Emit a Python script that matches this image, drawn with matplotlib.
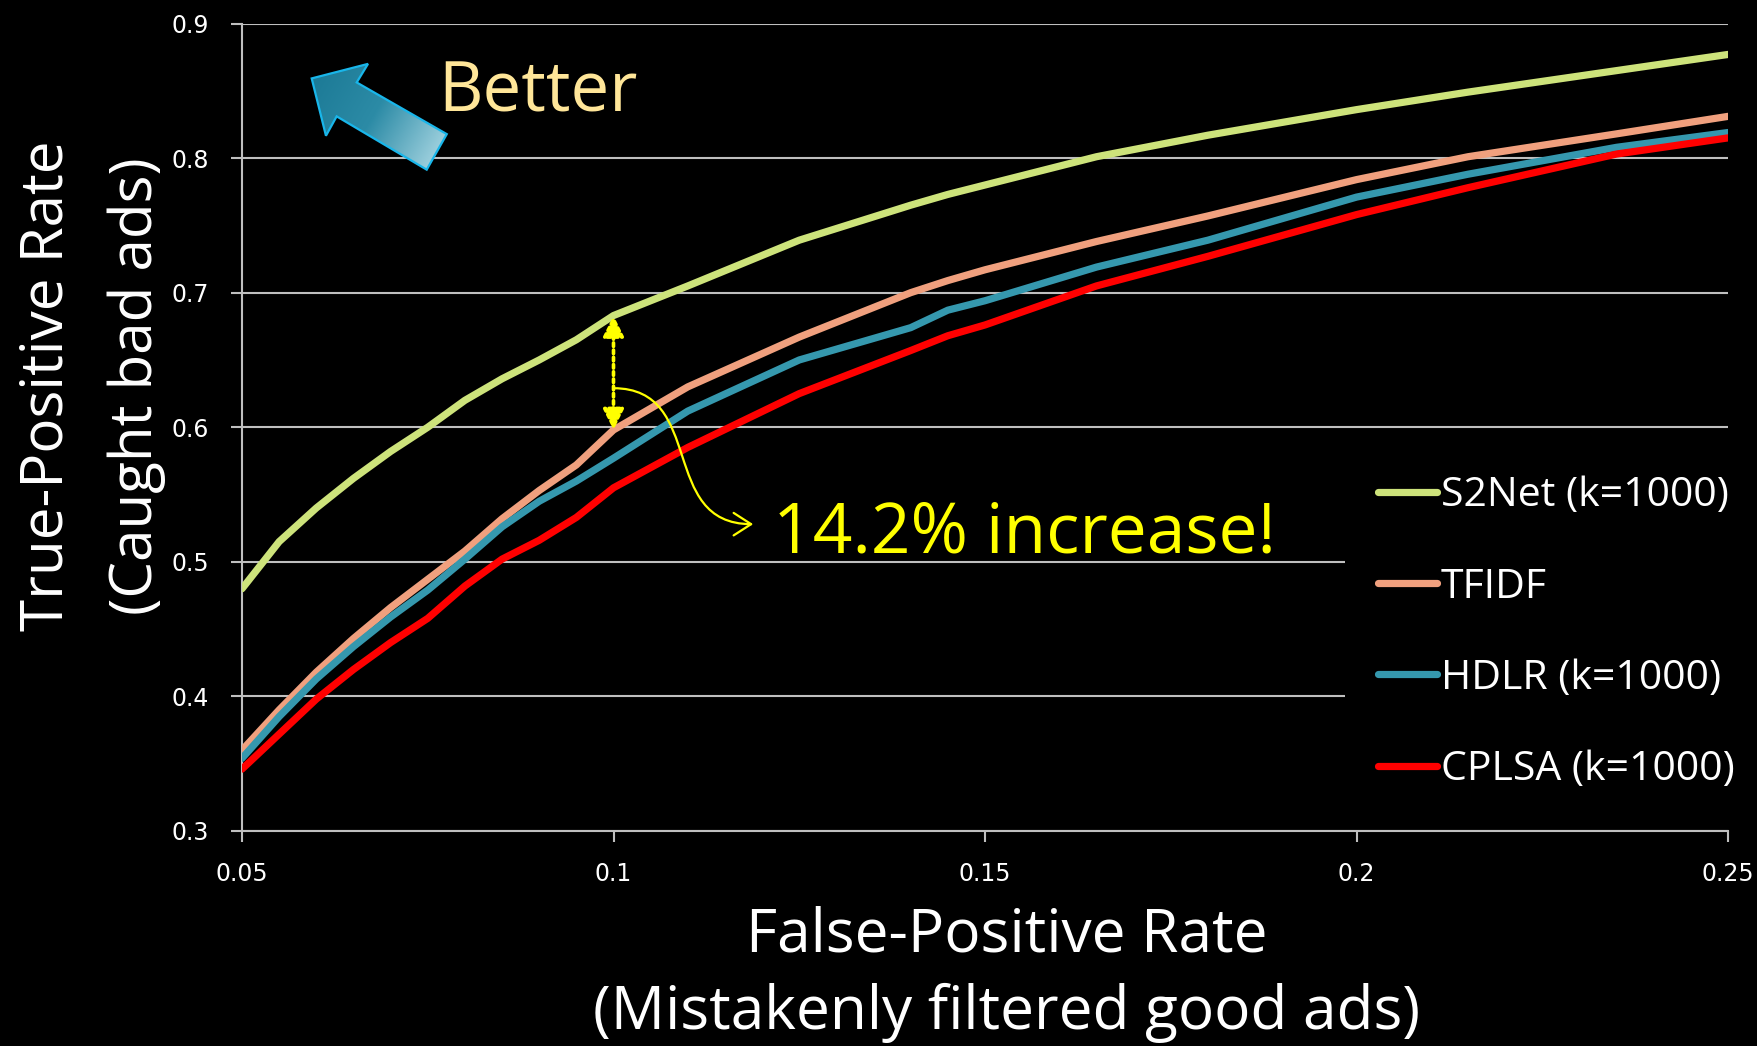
import numpy as np
import matplotlib
matplotlib.use('Agg')
import matplotlib.pyplot as plt
from matplotlib.patches import Polygon, Rectangle, FancyArrowPatch
from matplotlib.path import Path
from matplotlib.colors import LinearSegmentedColormap

# ROC region of the filters (false-positive rate vs true-positive rate)
fpr = [0.05, 0.055, 0.06, 0.065, 0.07, 0.075, 0.08, 0.085, 0.09, 0.095, 0.1,
       0.11, 0.125, 0.14, 0.145, 0.15, 0.165, 0.18, 0.2, 0.215, 0.235, 0.25]
s2net = [0.480, 0.515, 0.540, 0.562, 0.582, 0.600, 0.620, 0.636, 0.650, 0.665, 0.683,
         0.705, 0.739, 0.765, 0.773, 0.780, 0.801, 0.817, 0.836, 0.849, 0.865, 0.877]
tfidf = [0.360, 0.390, 0.418, 0.443, 0.466, 0.487, 0.508, 0.532, 0.553, 0.572, 0.598,
         0.630, 0.667, 0.700, 0.709, 0.717, 0.738, 0.757, 0.784, 0.801, 0.818, 0.831]
hdlr = [0.354, 0.385, 0.413, 0.437, 0.459, 0.479, 0.502, 0.526, 0.545, 0.560, 0.577,
        0.612, 0.650, 0.674, 0.687, 0.694, 0.719, 0.739, 0.771, 0.788, 0.808, 0.819]
cplsa = [0.346, 0.372, 0.398, 0.420, 0.440, 0.458, 0.482, 0.502, 0.516, 0.533, 0.555,
         0.585, 0.625, 0.657, 0.668, 0.676, 0.705, 0.727, 0.758, 0.778, 0.803, 0.815]

series = [('S2Net (k=1000)', s2net, '#CDE37B'),
          ('TFIDF', tfidf, '#F0A07E'),
          ('HDLR (k=1000)', hdlr, '#3598AE'),
          ('CPLSA (k=1000)', cplsa, '#FF0000')]

xticks = [0.05, 0.1, 0.15, 0.2, 0.25]
xticklabels = ['0.05', '0.1', '0.15', '0.2', '0.25']
yticks = [0.3, 0.4, 0.5, 0.6, 0.7, 0.8, 0.9]
yticklabels = ['0.3', '0.4', '0.5', '0.6', '0.7', '0.8', '0.9']

big_font = ['Open Sans', 'DejaVu Sans']
grid_col = '#BFBFBF'

W, H = 1758, 1046
fig = plt.figure(figsize=(W / 100, H / 100), dpi=100, facecolor='black')
ax = fig.add_axes([242 / W, 1 - 831 / H, 1486 / W, 807.5 / H], facecolor='black')

for label, ys, col in series:
    ax.plot(fpr, ys, color=col, lw=5.2, label=label,
            solid_capstyle='round', solid_joinstyle='round', zorder=3)

ax.set_xlim(0.05, 0.25)
ax.set_ylim(0.3, 0.9)
ax.set_xticks(xticks)
ax.set_xticklabels(xticklabels)
ax.set_yticks(yticks)
ax.set_yticklabels(yticklabels)
ax.tick_params(axis='both', colors=grid_col, labelcolor='white', labelsize=17,
               length=8, width=1.5, direction='out')
ax.tick_params(axis='y', pad=16)
ax.tick_params(axis='x', pad=14)
ax.set_axisbelow(True)
ax.yaxis.grid(True, color=grid_col, lw=1.5)
for s in ['top', 'right']:
    ax.spines[s].set_visible(False)
for s in ['left', 'bottom']:
    ax.spines[s].set_color(grid_col)
    ax.spines[s].set_linewidth(1.5)

# black panel behind the legend hides the lower grid lines
ax.add_patch(Rectangle((0.742, 0.003), 0.26, 0.47, transform=ax.transAxes,
                       facecolor='black', edgecolor='none', zorder=1.5))
leg = ax.legend(loc='upper left', bbox_to_anchor=(0.7645, 0.44), frameon=False,
                handlelength=1.45, handletextpad=0.08, labelspacing=1.24,
                borderpad=0, borderaxespad=0,
                prop={'family': big_font, 'size': 29.5})
for t in leg.get_texts():
    t.set_color('white')
for h in leg.legend_handles:
    h.set_solid_capstyle('round')
    h.set_linewidth(5.2)

# dotted double arrow at fpr = 0.1 between S2Net and TFIDF
i10 = fpr.index(0.1)
ax.annotate('', xy=(0.1, s2net[i10]), xytext=(0.1, tfidf[i10]),
            arrowprops=dict(arrowstyle='<|-|>,head_length=0.9,head_width=0.45',
                            color='#FFFF00', lw=2.6, ls=(0, (1, 1)),
                            shrinkA=0, shrinkB=0, mutation_scale=14),
            zorder=6)

# curved pointer from the double arrow to the text
verts = [(0.1, 0.629), (0.1125, 0.629), (0.106, 0.528), (0.1188, 0.528)]
codes = [Path.MOVETO, Path.CURVE4, Path.CURVE4, Path.CURVE4]
ax.add_patch(FancyArrowPatch(path=Path(verts, codes),
                             arrowstyle='->,head_length=0.7,head_width=0.45',
                             mutation_scale=18, color='#FFFF00', lw=1.6, zorder=6))
gain = (s2net[i10] / tfidf[i10] - 1) * 100
ax.text(0.1215, 0.507, f'{gain:.1f}% increase!', color='#FFFF00',
        family=big_font, fontsize=50, ha='left', va='baseline', zorder=6)

# "Better" block arrow with a gradient fill
arrow_pts = np.array([(0.0469, 0.932), (0.0848, 0.950), (0.0772, 0.927),
                      (0.1378, 0.863), (0.1243, 0.819), (0.0637, 0.885),
                      (0.0565, 0.861)])
poly = Polygon(arrow_pts, closed=True, transform=ax.transAxes,
               facecolor='none', edgecolor='#19B6EA', lw=1.6, zorder=5)
ax.add_patch(poly)
x0, x1, y0, y1 = 0.04, 0.145, 0.81, 0.96
gx, gy = np.meshgrid(np.linspace(x0, x1, 200) * 1486, np.linspace(y0, y1, 150) * 807.5)
tip = np.array([0.0469 * 1486, 0.932 * 807.5])
tail = np.array([0.131 * 1486, 0.841 * 807.5])
d = tail - tip
proj = ((gx - tip[0]) * d[0] + (gy - tip[1]) * d[1]) / (d @ d)
cmap = LinearSegmentedColormap.from_list('arrow', ['#1C7A96', '#2C8BA6', '#9ACEDC'])
im = ax.imshow(np.clip(proj, 0, 1), extent=[x0, x1, y0, y1], origin='lower',
               transform=ax.transAxes, cmap=cmap, vmin=0, vmax=1, aspect='auto', zorder=4)
im.set_clip_path(poly)
ax.set_xlim(0.05, 0.25)
ax.set_ylim(0.3, 0.9)

ax.text(0.132, 0.891, 'Better', transform=ax.transAxes, color='#FFE699',
        family=big_font, fontsize=49.5, ha='left', va='baseline', zorder=6)

# axis titles
fig.text(1007 / W, 1 - 951 / H, 'False-Positive Rate', color='white',
         family=big_font, fontsize=43.5, ha='center', va='baseline')
fig.text(1007 / W, 1 - 1029 / H, '(Mistakenly filtered good ads)', color='white',
         family=big_font, fontsize=43.5, ha='center', va='baseline')
fig.text(63 / W, 1 - 386 / H, 'True-Positive Rate', color='white', rotation=90,
         rotation_mode='anchor', family=big_font, fontsize=42, ha='center', va='baseline')
fig.text(152 / W, 1 - 386 / H, '(Caught bad ads)', color='white', rotation=90,
         rotation_mode='anchor', family=big_font, fontsize=42, ha='center', va='baseline')

fig.savefig('out.png', dpi=100, facecolor='black')
